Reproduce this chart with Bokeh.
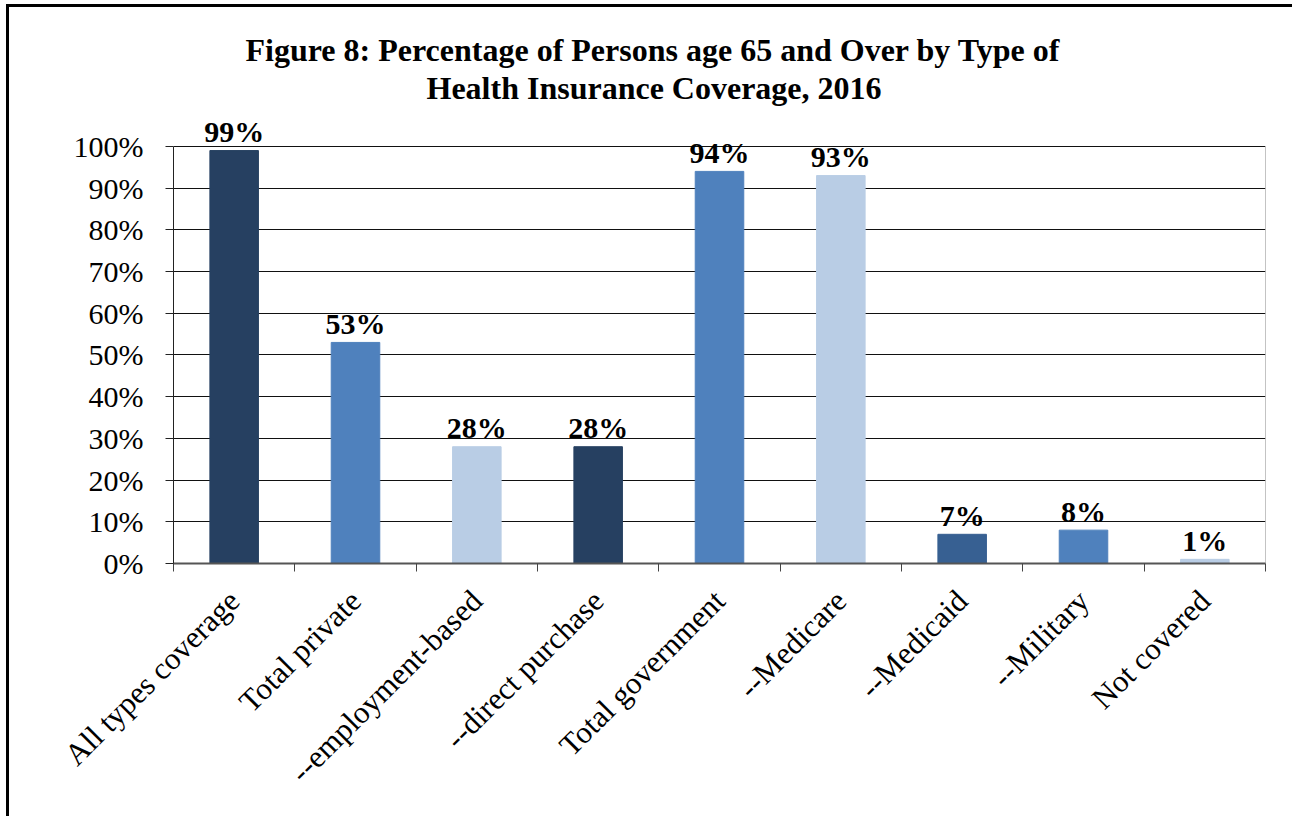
from bokeh.plotting import figure
from bokeh.models import FixedTicker, Title, ColumnDataSource, Range1d
from bokeh.core.properties import value
from bokeh.embed import file_html
from bokeh.resources import INLINE
import math

categories = ["All types coverage", "Total private", "--employment-based", "--direct purchase",
              "Total government", "--Medicare", "--Medicaid", "--Military", "Not covered"]
values = [99, 53, 28, 28, 94, 93, 7, 8, 1]
bar_colors = ["#264061", "#4F81BD", "#B9CDE5", "#264061", "#4F81BD", "#B9CDE5", "#376092", "#4F81BD", "#B9CDE5"]
y_ticks = [0, 10, 20, 30, 40, 50, 60, 70, 80, 90, 100]
y_tick_labels = [f"{t}%" for t in y_ticks]
title_line1 = "Figure 8: Percentage of Persons age 65 and Over by Type of"
title_line2 = "Health Insurance Coverage, 2016"

FONT = "Liberation Serif"

centers = [i + 0.5 for i in range(len(categories))]
bounds = [i for i in range(len(categories) + 1)]
n = len(categories)
ymax = y_ticks[-1]

src = ColumnDataSource(dict(x=centers, top=values, color=bar_colors,
                            label=[f"{v}%" for v in values]))

# frame extends a little above 100% so that the value labels are not clipped
p = figure(width=1286, height=812, output_backend="svg", toolbar_location=None,
           x_range=Range1d(0, n), y_range=Range1d(0, 109.8),
           min_border_left=164, min_border_right=30, min_border_top=98, min_border_bottom=256)
p.title = None
t2 = Title(text=title_line2, text_font=FONT, text_font_size="32px", text_font_style="bold",
           text_color="black", align="left", offset=253, standoff=0)
t1 = Title(text=title_line1, text_font=FONT, text_font_size="32px", text_font_style="bold",
           text_color="black", align="left", offset=72, standoff=0)
p.add_layout(t2, "above")
p.add_layout(t1, "above")

p.vbar(x="x", top="top", width=0.4, bottom=0, color="color", source=src)
p.text(x="x", y="top", text="label", source=src, text_align="center", text_baseline="middle",
       y_offset=-19, text_font=value(FONT), text_font_size="30px", text_font_style="bold",
       text_color="black")

# right edge of the plot area (0%..100%)
p.segment(x0=[n], y0=[0], x1=[n], y1=[ymax], line_color="#888888", line_width=1)

# y axis
p.yaxis.ticker = FixedTicker(ticks=y_ticks)
p.yaxis.bounds = (0, ymax)
p.yaxis.major_label_overrides = {t: l for t, l in zip(y_ticks, y_tick_labels)}
p.yaxis.major_label_text_font = FONT
p.yaxis.major_label_text_font_size = "30px"
p.yaxis.major_label_text_color = "black"
p.yaxis.major_tick_out = 8
p.yaxis.major_tick_in = 0
p.yaxis.minor_tick_line_color = None
p.yaxis.axis_line_color = "#222222"
p.yaxis.major_tick_line_color = "#222222"
p.yaxis.major_label_standoff = 22

# x axis
p.xaxis.ticker = FixedTicker(ticks=centers, minor_ticks=bounds)
p.xaxis.major_label_overrides = {c: l for c, l in zip(centers, categories)}
p.xaxis.major_label_orientation = math.pi / 4
p.xaxis.major_label_text_font = FONT
p.xaxis.major_label_text_font_size = "31px"
p.xaxis.major_label_text_color = "black"
p.xaxis.major_tick_line_color = None
p.xaxis.minor_tick_out = 8
p.xaxis.minor_tick_in = 0
p.xaxis.minor_tick_line_color = "#444444"
p.xaxis.axis_line_color = "#555555"
p.xaxis.axis_line_width = 2
p.xaxis.major_label_standoff = 24

p.xgrid.grid_line_color = None
p.ygrid.ticker = FixedTicker(ticks=y_ticks)
p.ygrid.grid_line_color = "#111111"
p.ygrid.grid_line_width = 1
p.outline_line_color = None
p.background_fill_color = "white"
p.border_fill_color = "white"
p.styles = {"border-left": "3px solid black", "border-top": "3px solid black",
            "margin-left": "6px", "margin-top": "4px"}

open("out.html", "w").write(file_html(p, INLINE))
